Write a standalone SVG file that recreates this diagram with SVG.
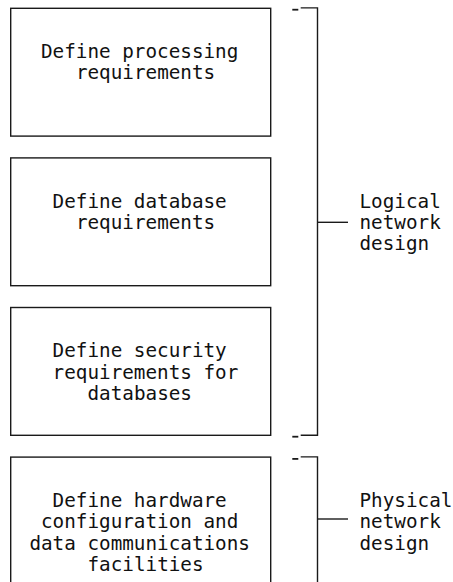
<svg xmlns="http://www.w3.org/2000/svg" width="453" height="582" viewBox="0 0 453 582">
<style>
.box{fill:none;stroke:#1a1a1a;stroke-width:1.4}
.ln{stroke:#1a1a1a;stroke-width:1.4;fill:none}
.dash{stroke:#1a1a1a;stroke-width:1.8}
text{font-family:"DejaVu Sans Mono","Liberation Mono",monospace;font-size:19.3px;fill:#111}
</style>
<rect width="453" height="582" fill="#fff"/>
<g id="node-processing">
<rect class="box" x="10.7" y="8.3" width="260" height="127.8"/>
<text x="41" y="58">Define processing</text>
<text x="75.9" y="79.4">requirements</text>
</g>
<g id="node-database">
<rect class="box" x="10.7" y="157.9" width="260" height="127.8"/>
<text x="52.6" y="207.6">Define database</text>
<text x="75.9" y="229">requirements</text>
</g>
<g id="node-security">
<rect class="box" x="10.7" y="307.5" width="260" height="127.8"/>
<text x="52.6" y="357.2">Define security</text>
<text x="52.6" y="378.5">requirements for</text>
<text x="87.5" y="399.9">databases</text>
</g>
<g id="node-hardware">
<rect class="box" x="10.7" y="457.1" width="260" height="127.8"/>
<text x="52.6" y="506.8">Define hardware</text>
<text x="41" y="528.1">configuration and</text>
<text x="29.4" y="549.5">data communications</text>
<text x="87.5" y="570.9">facilities</text>
</g>
<g id="label-logical">
<text x="359.5" y="207.6">Logical</text>
<text x="359.5" y="229">network</text>
<text x="359.5" y="250.3">design</text>
</g>
<g id="label-physical">
<text x="359.5" y="506.8">Physical</text>
<text x="359.5" y="528.1">network</text>
<text x="359.5" y="549.5">design</text>
</g>
<g id="connectors">
<path class="ln" d="M300.7 7.9 H317.5 V435.2 H300.7"/>
<line class="dash" x1="292.3" y1="9.7" x2="298.3" y2="9.7"/>
<line class="dash" x1="292.3" y1="436.7" x2="298.3" y2="436.7"/>
<line class="ln" x1="317.5" y1="222.3" x2="348" y2="222.3"/>
<path class="ln" d="M300.7 456.9 H317.5 V582"/>
<line class="dash" x1="292.3" y1="458.9" x2="298.3" y2="458.9"/>
<line class="ln" x1="317.5" y1="519" x2="348" y2="519"/>
</g>
</svg>
